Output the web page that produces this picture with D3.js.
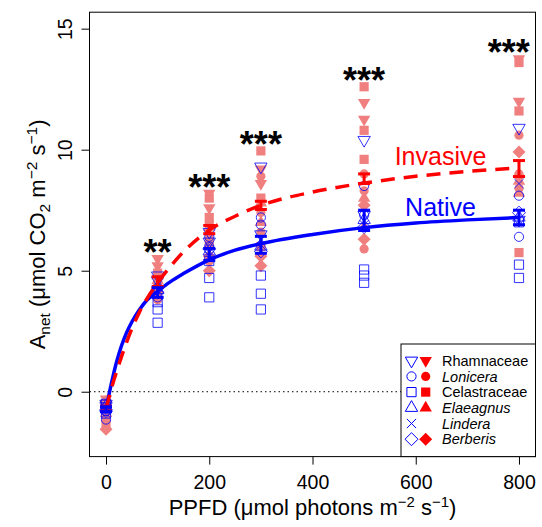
<!DOCTYPE html>
<html><head><meta charset="utf-8">
<script src="https://cdn.jsdelivr.net/npm/d3@7"></script>
<style>body{margin:0;background:#fff} svg{display:block;font-family:"Liberation Sans",Arial,Helvetica,sans-serif}</style>
</head><body><svg id="chart" width="542" height="527"></svg>
<script>
// ---------------- data ----------------
const ppfd = [0, 100, 200, 300, 500, 800];
const xTicks = [0, 200, 400, 600, 800];
const yTicks = [0, 5, 10, 15];
const sigLabels = ["", "**", "***", "***", "***", "***"];
const sigPPFD = [0, 100, 200, 300, 500, 780];
const legendTaxa = ["Rhamnaceae", "Lonicera", "Celastraceae", "Elaeagnus", "Lindera", "Berberis"];
const italicTaxa = ["Lonicera", "Elaeagnus", "Lindera", "Berberis"];
const invasiveLegendTaxa = ["Rhamnaceae", "Lonicera", "Celastraceae", "Elaeagnus", "Berberis"];

const nativeTaxa = ["Rhamnaceae", "Lonicera", "Lonicera", "Celastraceae", "Celastraceae", "Celastraceae", "Elaeagnus", "Lindera", "Berberis", "Rhamnaceae"];
const nativeValues = [
  [-0.6, 4.8, 6.6, 9.3, 10.4, 10.9],
  [-1.15, 4.3, 6.4, 7.2, 8.5, 8.1],
  [-0.8, 3.9, 6.0, 6.9, 7.3, 6.4],
  [-0.9, 2.85, 3.9, 3.4, 4.5, 4.7],
  [-0.7, 3.4, 4.7, 4.05, 4.8, 5.25],
  [-0.5, 3.7, 5.4, 4.8, 5.05, 7.0],
  [-0.6, 4.2, 5.8, 6.0, 7.1, 7.2],
  [-0.7, 4.0, 5.6, 6.3, 6.9, 8.6],
  [-0.8, 4.1, 5.9, 5.8, 6.8, 7.4],
  [-0.5, 4.6, 6.2, 6.5, 7.3, 7.1]
];
const invasiveTaxa = ["Rhamnaceae", "Rhamnaceae", "Celastraceae", "Celastraceae", "Celastraceae", "Lonicera", "Lonicera", "Lonicera", "Elaeagnus", "Berberis", "Elaeagnus", "Berberis"];
const invasiveValues = [
  [-0.3, 5.5, 8.2, 9.2, 11.95, 13.75],
  [-0.5, 5.2, 7.6, 8.6, 11.25, 12.0],
  [-0.9, 4.9, 8.0, 9.95, 12.6, 13.6],
  [-1.4, 4.4, 7.2, 8.0, 10.8, 11.6],
  [-0.6, 4.2, 6.2, 6.0, 9.6, 5.75],
  [-0.8, 4.7, 7.0, 8.9, 9.0, 10.6],
  [-1.0, 4.5, 6.5, 7.4, 8.3, 9.0],
  [-1.2, 3.8, 5.4, 6.6, 5.9, 8.4],
  [-0.7, 4.6, 6.0, 7.0, 8.0, 8.7],
  [-0.4, 4.3, 5.0, 5.2, 7.7, 9.9],
  [-0.9, 4.8, 6.8, 7.8, 6.8, 8.2],
  [-1.55, 4.1, 5.6, 5.6, 6.3, 8.9]
];
const nativeMean = [-0.72, 4.1, 5.67, 6.07, 7.08, 7.2];
const nativeSE = [0.1, 0.2, 0.25, 0.35, 0.42, 0.3];
const invasiveMean = [-0.7, 4.55, 6.7, 7.7, 8.8, 9.22];
const invasiveSE = [0.1, 0.2, 0.17, 0.17, 0.2, 0.33];

const curvePPFD = [0, 10, 20, 30, 40, 50, 65, 80, 100, 125, 150, 200, 250, 300, 400, 500, 600, 700, 800];
const nativeCurve = [-0.72, 0.3, 1.2, 1.9, 2.45, 2.88, 3.4, 3.8, 4.15, 4.55, 4.88, 5.45, 5.85, 6.12, 6.5, 6.78, 6.97, 7.1, 7.2];
const invasiveCurve = [-0.7, 0.1, 0.8, 1.45, 2.05, 2.6, 3.3, 3.87, 4.5, 5.18, 5.78, 6.68, 7.25, 7.7, 8.25, 8.62, 8.9, 9.1, 9.25];

// ---------------- layout ----------------
const svg = d3.select("#chart");
const L = 89.5, R = 535.5, T = 12.2, B = 456.6;
const x = d3.scaleLinear().domain([-32, 832]).range([L, R]);
const y = d3.scaleLinear().domain([-2.68, 15.68]).range([B, T]);
const BLUE = "#0000FF", RED = "#FF0000", PINK = "#F08080";
const RAD = 4.6;

// R-like symbol shapes
const shapes = {
  Celastraceae: { draw(c, r) { c.rect(-r, -r, 2 * r, 2 * r); } },
  Lonicera: { draw(c, r) { c.moveTo(r, 0); c.arc(0, 0, r, 0, 2 * Math.PI); } },
  Elaeagnus: { draw(c, r) { const t = 1.555 * r, h = 1.347 * r, b = 0.778 * r; c.moveTo(0, -t); c.lineTo(h, b); c.lineTo(-h, b); c.closePath(); } },
  Rhamnaceae: { draw(c, r) { const t = 1.555 * r, h = 1.347 * r, b = 0.778 * r; c.moveTo(0, t); c.lineTo(h, -b); c.lineTo(-h, -b); c.closePath(); } },
  Berberis: { draw(c, r) { const d = Math.SQRT2 * r; c.moveTo(0, -d); c.lineTo(d, 0); c.lineTo(0, d); c.lineTo(-d, 0); c.closePath(); } },
  Lindera: { draw(c, r) { c.moveTo(-r, -r); c.lineTo(r, r); c.moveTo(r, -r); c.lineTo(-r, r); } }
};
const sym = (taxon, r) => d3.symbol().type(shapes[taxon]).size(r)();

// zero line
svg.append("line").attr("x1", L).attr("x2", R).attr("y1", y(0)).attr("y2", y(0))
  .attr("stroke", "#000").attr("stroke-width", 1).attr("stroke-dasharray", "1.5,3");

// invasive points (filled)
invasiveValues.forEach((vals, i) => {
  svg.append("g").selectAll("path").data(vals).join("path")
    .attr("transform", (v, j) => `translate(${x(ppfd[j])},${y(v)})`)
    .attr("d", sym(invasiveTaxa[i], RAD))
    .attr("fill", PINK).attr("stroke", "none");
});
// native points (open)
nativeValues.forEach((vals, i) => {
  svg.append("g").selectAll("path").data(vals).join("path")
    .attr("transform", (v, j) => `translate(${x(ppfd[j])},${y(v)})`)
    .attr("d", sym(nativeTaxa[i], RAD))
    .attr("fill", "none").attr("stroke", BLUE).attr("stroke-opacity", 0.8).attr("stroke-width", 1);
});

// curves
const line = d3.line().x(d => x(d[0])).y(d => y(d[1])).curve(d3.curveMonotoneX);
svg.append("path").attr("d", line(curvePPFD.map((p, i) => [p, nativeCurve[i]])))
  .attr("fill", "none").attr("stroke", BLUE).attr("stroke-width", 3.5);
svg.append("path").attr("d", line(curvePPFD.map((p, i) => [p, invasiveCurve[i]])))
  .attr("fill", "none").attr("stroke", RED).attr("stroke-width", 3.5).attr("stroke-dasharray", "14,9");

// error bars
function errBars(means, ses, color) {
  const g = svg.append("g").attr("stroke", color).attr("stroke-width", 3).attr("fill", "none");
  ppfd.forEach((p, i) => {
    const cx = x(p), y1 = y(means[i] + ses[i]), y2 = y(means[i] - ses[i]);
    g.append("line").attr("x1", cx).attr("x2", cx).attr("y1", y1).attr("y2", y2);
    g.append("line").attr("x1", cx - 6).attr("x2", cx + 6).attr("y1", y1).attr("y2", y1);
    g.append("line").attr("x1", cx - 6).attr("x2", cx + 6).attr("y1", y2).attr("y2", y2);
  });
}
errBars(invasiveMean, invasiveSE, RED);
errBars(nativeMean, nativeSE, BLUE);

// significance stars
svg.append("g").selectAll("text").data(sigPPFD).join("text")
  .attr("x", p => x(p))
  .attr("y", (p, i) => y(d3.max(invasiveValues, v => v[i]) + 0.6) + 21)
  .attr("text-anchor", "middle").attr("font-size", 36).attr("font-weight", "bold")
  .text((p, i) => sigLabels[i]);

// group labels
svg.append("text").attr("x", x(648)).attr("y", y(9.7) + 8.5).attr("text-anchor", "middle")
  .attr("font-size", 25).attr("fill", RED).text("Invasive");
svg.append("text").attr("x", x(648)).attr("y", y(7.6) + 8.5).attr("text-anchor", "middle")
  .attr("font-size", 25).attr("fill", BLUE).text("Native");

// box
svg.append("rect").attr("x", L).attr("y", T).attr("width", R - L).attr("height", B - T)
  .attr("fill", "none").attr("stroke", "#000").attr("stroke-width", 1);

// axes
const xAxis = svg.append("g").attr("transform", `translate(0,${B})`)
  .call(d3.axisBottom(x).tickValues(xTicks).tickSize(8).tickPadding(10.5).tickFormat(d3.format("d")));
xAxis.select(".domain").remove();
xAxis.selectAll("text").attr("font-size", 19.5).attr("font-family", null).attr("fill", "#000");
xAxis.selectAll("line").attr("stroke", "#000");

const yAxis = svg.append("g").attr("transform", `translate(${L},0)`)
  .call(d3.axisLeft(y).tickValues(yTicks).tickSize(8).tickFormat(d3.format("d")));
yAxis.select(".domain").remove();
yAxis.selectAll("line").attr("stroke", "#000");
yAxis.selectAll("text").attr("font-size", 19.5).attr("font-family", null).attr("fill", "#000")
  .attr("transform", "rotate(-90)").attr("x", 0).attr("y", -(L - 71.5)).attr("dy", 0)
  .attr("text-anchor", "middle");

// axis titles
const xt = svg.append("text").attr("x", (L + R) / 2).attr("y", 515).attr("text-anchor", "middle").attr("font-size", 22);
xt.append("tspan").text("PPFD (\u03BCmol photons m");
xt.append("tspan").attr("dy", -8).attr("font-size", 15).text("\u22122");
xt.append("tspan").attr("dy", 8).text(" s");
xt.append("tspan").attr("dy", -8).attr("font-size", 15).text("\u22121");
xt.append("tspan").attr("dy", 8).text(")");

const yt = svg.append("text").attr("transform", `translate(45,${(T + B) / 2}) rotate(-90)`)
  .attr("text-anchor", "middle").attr("font-size", 22);
yt.append("tspan").text("A");
yt.append("tspan").attr("dy", 5).attr("font-size", 15.5).text("net");
yt.append("tspan").attr("dy", -5).text(" (\u03BCmol CO");
yt.append("tspan").attr("dy", 5).attr("font-size", 15.5).text("2");
yt.append("tspan").attr("dy", -5).text(" m");
yt.append("tspan").attr("dy", -8).attr("font-size", 15.5).text("\u22122");
yt.append("tspan").attr("dy", 8).text(" s");
yt.append("tspan").attr("dy", -8).attr("font-size", 15.5).text("\u22121");
yt.append("tspan").attr("dy", 8).text(")");

// legend
const lg = svg.append("g");
lg.append("rect").attr("x", 401).attr("y", 344).attr("width", R - 401).attr("height", B - 344)
  .attr("fill", "#fff").attr("stroke", "#000").attr("stroke-width", 1);
legendTaxa.forEach((t, i) => {
  const cy = 360.7 + i * 15.7;
  lg.append("path").attr("transform", `translate(411.5,${cy})`).attr("d", sym(t, RAD))
    .attr("fill", "none").attr("stroke", BLUE).attr("stroke-width", 1);
  if (invasiveLegendTaxa.includes(t)) {
    lg.append("path").attr("transform", `translate(425.7,${cy})`).attr("d", sym(t, RAD))
      .attr("fill", RED).attr("stroke", "none");
  }
  lg.append("text").attr("x", 442).attr("y", cy + 5.2).attr("font-size", 14.5)
    .attr("font-style", italicTaxa.includes(t) ? "italic" : "normal").text(t);
});
</script></body></html>
